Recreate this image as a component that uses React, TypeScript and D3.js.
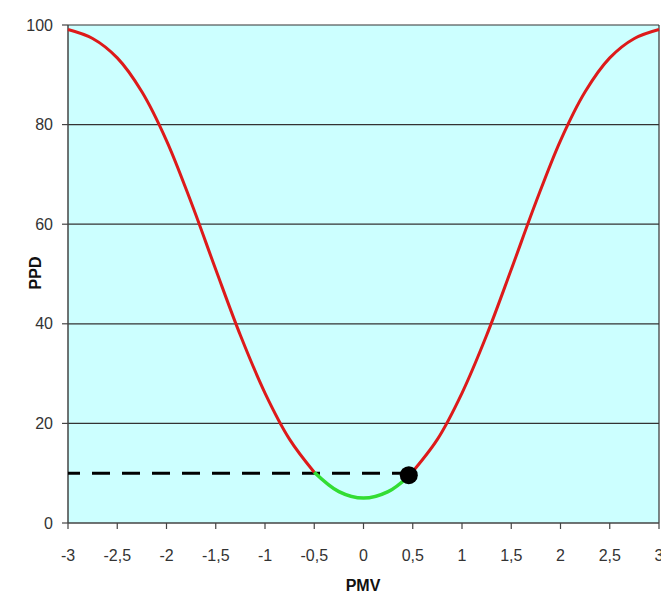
import React from 'react'
import * as d3 from 'd3'

// PMV / PPD values
const pmv = [-3, -2.75, -2.5, -2.25, -2, -1.75, -1.5, -1.25, -1, -0.75, -0.5, -0.25, 0, 0.25, 0.46, 0.75, 1, 1.25, 1.5, 1.75, 2, 2.25, 2.5, 2.75, 3]
const ppd = [99.1, 97.3, 93.4, 86.6, 76.8, 64.4, 50.9, 37.7, 26.1, 16.8, 10.2, 6.3, 5, 6.3, 9.4, 16.8, 26.1, 37.7, 50.9, 64.4, 76.8, 86.6, 93.4, 97.3, 99.1]

const xTicks = [-3, -2.5, -2, -1.5, -1, -0.5, 0, 0.5, 1, 1.5, 2, 2.5, 3]
const yTicks = [0, 20, 40, 60, 80, 100]

const comfortLow = -0.5
const markerPmv = 0.46
const markerPpd = 9.6
const dashLevel = 10

const App: React.FC = () => {
  const width = 661
  const height = 595
  const left = 68
  const right = 659
  const top = 25
  const bottom = 523

  const xScale = d3.scaleLinear().domain([-3, 3]).range([left, right])
  const yScale = d3.scaleLinear().domain([0, 100]).range([bottom, top])

  const points = pmv.map((p, i) => ({ p, v: ppd[i] }))
  const line = d3.line<{ p: number; v: number }>()
    .x(d => xScale(d.p))
    .y(d => yScale(d.v))
    .curve(d3.curveCatmullRom)

  const redLeft = points.filter(d => d.p <= comfortLow)
  const green = points.filter(d => d.p >= comfortLow && d.p <= markerPmv)
  const redRight = points.filter(d => d.p >= markerPmv)

  const font = '"Liberation Sans", Arial, sans-serif'
  const fmt = (n: number) => String(n).replace('.', ',')

  return (
    <svg width={width} height={height} style={{ position: 'absolute', left: 0, top: 0, background: '#fff' }}>
      <rect x={left} y={top} width={right - left} height={bottom - top} fill="#ccffff" />
      {yTicks.filter(t => t > 0).map(t => (
        <line key={t} x1={left} x2={right} y1={yScale(t)} y2={yScale(t)} stroke="#333" strokeWidth={1.2} />
      ))}
      <line x1={right} x2={right} y1={top} y2={bottom} stroke="#333" strokeWidth={1.2} />
      <line x1={left} x2={left} y1={top} y2={bottom} stroke="#444" strokeWidth={1.5} />
      <line x1={left} x2={right} y1={bottom} y2={bottom} stroke="#444" strokeWidth={1.5} />
      {yTicks.map(t => (
        <g key={t}>
          <line x1={left - 6} x2={left} y1={yScale(t)} y2={yScale(t)} stroke="#444" strokeWidth={1.2} />
          <text x={left - 15} y={yScale(t)} dy="0.35em" textAnchor="end" fontFamily={font} fontSize={16} fill="#333">{t}</text>
        </g>
      ))}
      {xTicks.map(t => (
        <g key={t}>
          <line x1={xScale(t)} x2={xScale(t)} y1={bottom} y2={bottom + 6} stroke="#444" strokeWidth={1.2} />
          <text x={xScale(t)} y={555} dy="0.35em" textAnchor="middle" fontFamily={font} fontSize={16} fill="#333">{fmt(t)}</text>
        </g>
      ))}
      <line
        x1={left}
        x2={xScale(markerPmv)}
        y1={yScale(dashLevel)}
        y2={yScale(dashLevel)}
        stroke="#000"
        strokeWidth={3}
        strokeDasharray="18 12"
        strokeDashoffset={6}
      />
      <path d={line(redLeft) || ''} fill="none" stroke="#dd1a1a" strokeWidth={3} />
      <path d={line(redRight) || ''} fill="none" stroke="#dd1a1a" strokeWidth={3} />
      <path d={line(green) || ''} fill="none" stroke="#33dd33" strokeWidth={3.5} />
      <circle cx={xScale(markerPmv)} cy={yScale(markerPpd)} r={9} fill="#000" />
      <text x={363} y={585} dy="0.35em" textAnchor="middle" fontFamily={font} fontSize={16} fontWeight="bold" fill="#111">PMV</text>
      <text transform="translate(35,273) rotate(-90)" dy="0.35em" textAnchor="middle" fontFamily={font} fontSize={16} fontWeight="bold" fill="#111">PPD</text>
    </svg>
  )
}

export default App
